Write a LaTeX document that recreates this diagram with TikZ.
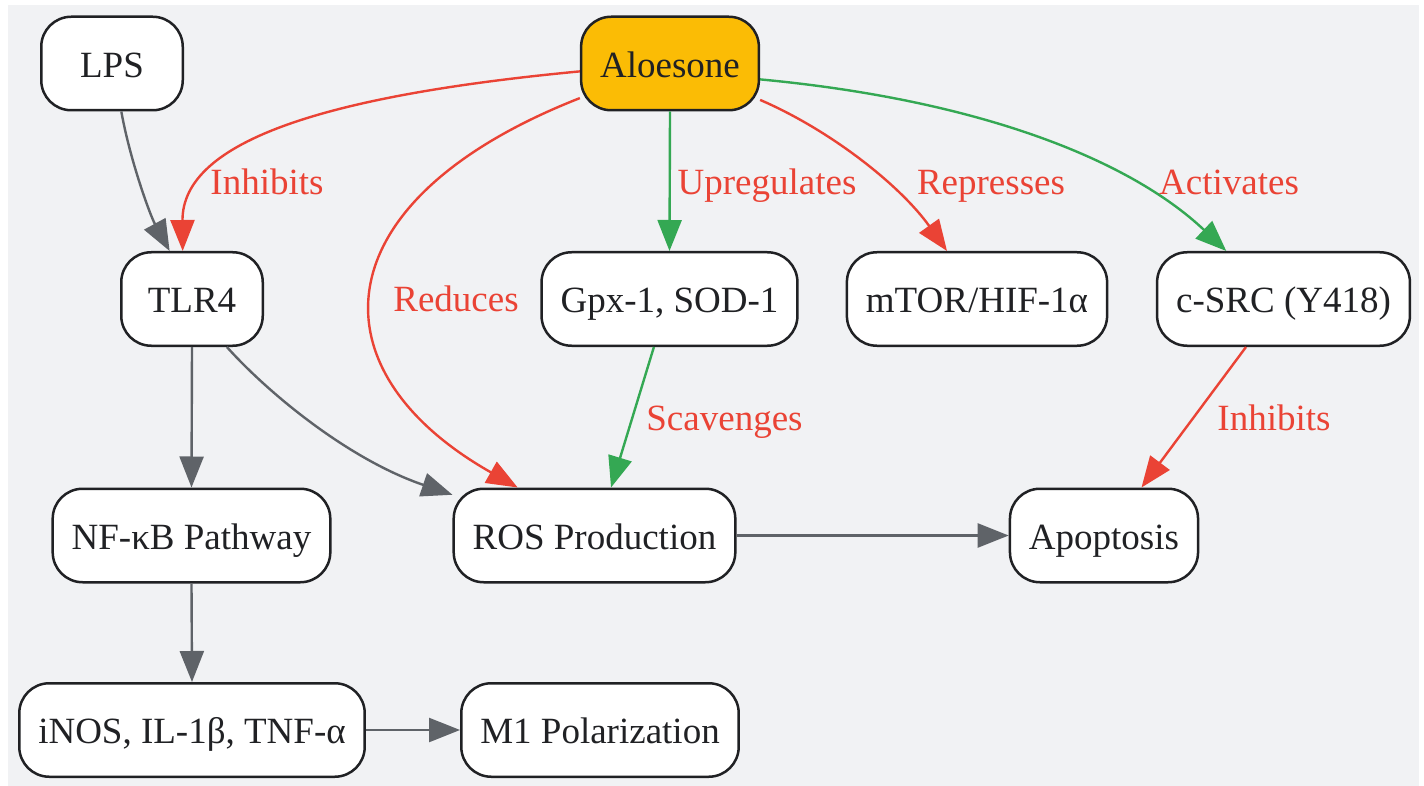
\documentclass[tikz,border=0pt]{standalone}
\usepackage{fontspec}
\setmainfont{Liberation Serif}
\usetikzlibrary{arrows.meta}
\definecolor{bgc}{HTML}{F1F2F4}
\definecolor{bordc}{HTML}{202124}
\definecolor{grayc}{HTML}{5F6368}
\definecolor{redc}{HTML}{EA4335}
\definecolor{greenc}{HTML}{34A853}
\definecolor{goldc}{HTML}{FBBC05}
\begin{document}
\begin{tikzpicture}[x=1pt,y=-1pt,
  box/.style={draw=bordc, line width=2.5pt, fill=white, rounded corners=30pt,
    inner xsep=19pt, inner ysep=0pt, minimum height=93.5pt,
    text height=28pt, text depth=0.4pt, text=bordc,
    font=\fontsize{37}{44}\selectfont},
  narrow/.style={minimum width=141.5pt},
  link/.style={line width=2.4pt, -{Triangle[length=31pt,width=24pt]}},
  glink/.style={link, draw=grayc},
  rlink/.style={link, draw=redc},
  elink/.style={link, draw=greenc},
  lbl/.style={anchor=base, text=redc, inner sep=0pt, font=\fontsize{37}{44}\selectfont}]
\useasboundingbox (0,0) rectangle (1424,786);
\fill[bgc] (8,5) rectangle (1419,786);

\node[box, narrow] (lps) at (112,63.5) {LPS};
\node[box, fill=goldc] (aloe) at (670,63.5) {Aloesone};
\node[box, narrow] (tlr) at (192,299) {TLR4};
\node[box] (gpx) at (669.5,299) {Gpx-1, SOD-1};
\node[box] (mtor) at (977,299) {mTOR/HIF-1α};
\node[box] (csrc) at (1283.5,299) {c-SRC (Y418)};
\node[box] (nfkb) at (191.5,535.5) {NF-κB Pathway};
\node[box] (ros) at (594.5,535.5) {ROS Production};
\node[box] (apo) at (1104,535.5) {Apoptosis};
\node[box] (inos) at (192,730) {iNOS, IL-1β, TNF-α};
\node[box] (m1) at (600,730) {M1 Polarization};

% connectors
\draw[glink] (lps.281.9) .. controls (130,160) and (150,215) .. (tlr.115.6);
\draw[rlink] (aloe.185.4) .. controls (330,95) and (182,140) .. (tlr.101.8);
\draw[rlink] (aloe.201) .. controls (320,200) and (310,370) .. (ros.148.5);
\draw[elink] (aloe.south) -- (gpx.north);
\draw[rlink] (aloe.338) .. controls (830,130) and (900,185) .. (mtor.122);
\draw[elink] (aloe.350.85) .. controls (980,100) and (1130,160) .. (csrc.140.6);
\draw[glink] (tlr.south) -- (nfkb.north);
\draw[glink] (tlr.306.1) .. controls (270,395) and (350,460) .. (ros.164.7);
\draw[elink] (gpx.252) -- (ros.71.9);
\draw[rlink] (csrc.232.7) -- (apo.52.7);
\draw[glink] (ros.east) -- (apo.west);
\draw[glink] (nfkb.south) -- (inos.north);
\draw[glink] (inos.east) -- (m1.west);

% labels
\node[lbl] (l1) at (267,195) {Inhibits};
\node[lbl] (l2) at (456,312) {Reduces};
\node[lbl] (l3) at (767,195) {Upregulates};
\node[lbl] (l4) at (991,195) {Represses};
\node[lbl] (l5) at (1229,195) {Activates};
\node[lbl] (l6) at (724.5,430.5) {Scavenges};
\node[lbl] (l7) at (1274,430) {Inhibits};
\end{tikzpicture}
\end{document}
